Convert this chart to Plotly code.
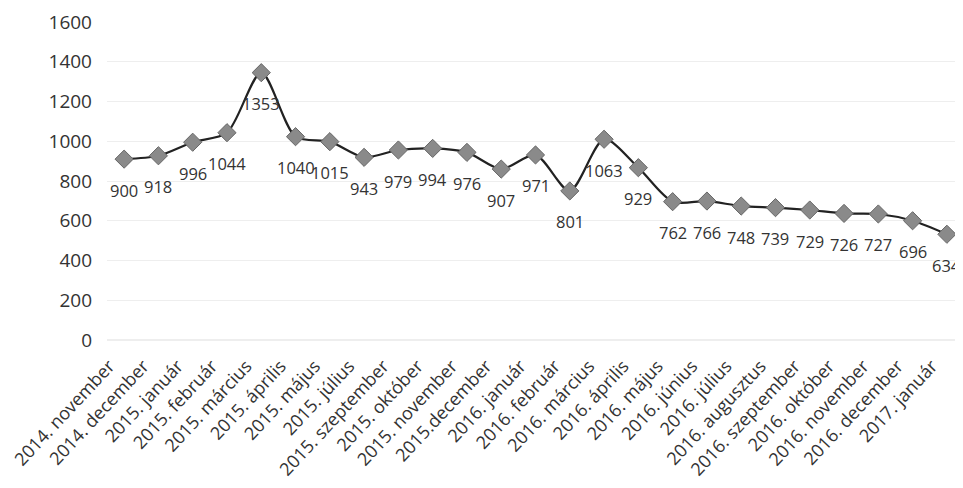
import plotly.graph_objects as go

categories = [
    "2014. november", "2014. december", "2015. január", "2015. február",
    "2015. március", "2015. április", "2015. május", "2015. július",
    "2015. szeptember", "2015. október", "2015. november", "2015.december",
    "2016. január", "2016. február", "2016. március", "2016. április",
    "2016. május", "2016. június", "2016. július", "2016. augusztus",
    "2016. szeptember", "2016. október", "2016. november", "2016. december",
    "2017. január",
]
# printed data labels
label_values = [900, 918, 996, 1044, 1353, 1040, 1015, 943, 979, 994, 976, 907,
                971, 801, 1063, 929, 762, 766, 748, 739, 729, 726, 727, 696, 634]
# marker heights as read from the (scanned) picture
plotted_values = [910, 927, 995, 1043, 1345, 1023, 998, 919, 956, 964, 944, 860,
                  931, 750, 1010, 867, 696, 699, 674, 666, 654, 637, 634, 600, 532]
y_ticks = [0, 200, 400, 600, 800, 1000, 1200, 1400, 1600]

FONT = "Open Sans"
TXT = "#333333"

fig = go.Figure()
fig.add_trace(go.Scatter(
    x=categories, y=plotted_values, mode="lines+markers",
    line=dict(color="#222222", width=2.2, shape="spline", smoothing=0.8),
    marker=dict(symbol="diamond", size=14, color="#8a8a8a",
                line=dict(color="#666666", width=1)),
    hoverinfo="skip", showlegend=False, cliponaxis=False,
))

for c, v, t in zip(categories, plotted_values, label_values):
    fig.add_annotation(x=c, y=v, text=str(t), showarrow=False, yshift=-31,
                       font=dict(family=FONT, size=16.5, color=TXT))

# the page body adds an 8px offset, so the figure is sized to compensate
fig.update_layout(
    width=955, height=480,
    margin=dict(l=99, r=0, t=14, b=148),
    paper_bgcolor="white", plot_bgcolor="white",
    font=dict(family=FONT, size=17, color=TXT),
)
fig.update_xaxes(
    type="category", range=[-0.5, 24.47], tickangle=-47, automargin=False,
    showgrid=False, showline=False, zeroline=False,
    ticklabelshift=-15, ticklabelstandoff=11,
    tickfont=dict(family=FONT, size=18, color=TXT),
)
fig.update_yaxes(
    range=[0, 1600], tickvals=y_ticks, ticktext=[str(v) for v in y_ticks],
    automargin=False,
    showgrid=True, gridcolor="#eeeeee", gridwidth=1,
    zeroline=True, zerolinecolor="#eeeeee", showline=False,
    ticks="", ticklabelstandoff=14,
    tickfont=dict(family=FONT, size=19, color=TXT),
)

fig.write_html("out.html")
